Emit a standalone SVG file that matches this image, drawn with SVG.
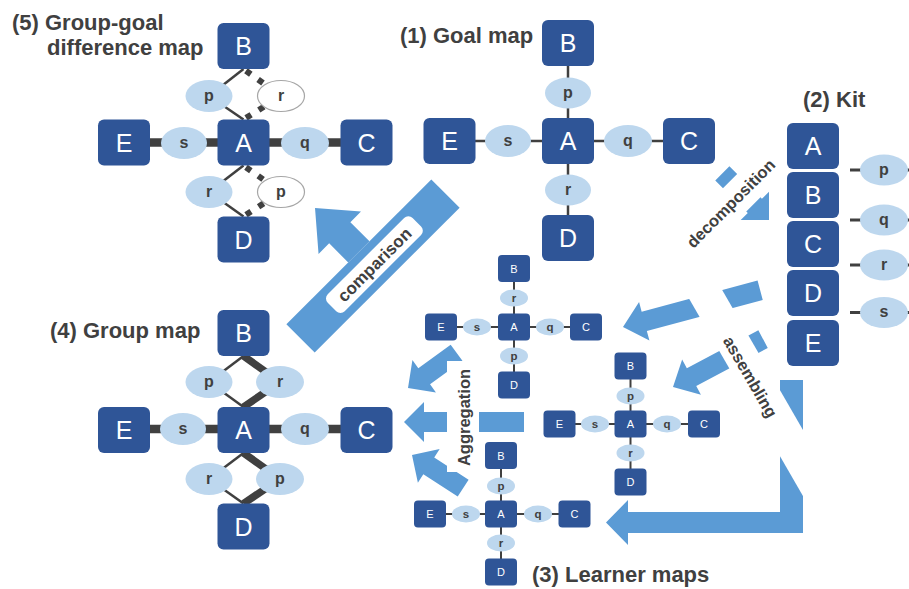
<svg xmlns="http://www.w3.org/2000/svg" width="909" height="589" viewBox="0 0 909 589">
<style>
text{font-family:"Liberation Sans",Arial,sans-serif;}
.ttl{font-size:22px;font-weight:bold;fill:#404040;}
.box{fill:#2f5597;}
.bt{fill:#fff;font-size:25px;text-anchor:middle;}
.sbt{fill:#fff;font-size:11px;text-anchor:middle;}
.el{fill:#bdd7ee;}
.eo{fill:#fff;stroke:#a6a6a6;stroke-width:1.2;}
.et{fill:#404040;font-size:16px;font-weight:bold;text-anchor:middle;}
.set{fill:#404040;font-size:11.5px;font-weight:bold;text-anchor:middle;}
.thin{stroke:#404040;stroke-width:2.5;fill:none;}
.sm{stroke:#404040;stroke-width:2;fill:none;}
.thick{stroke:#404040;stroke-width:7.5;fill:none;}
.hthick{stroke:#404040;stroke-width:8.5;fill:none;}
.dash{stroke:#404040;stroke-width:6;stroke-dasharray:6 9;stroke-dashoffset:-3;fill:none;}
.stub{stroke:#404040;stroke-width:3;}
.arr{fill:#5b9bd5;}
.bg{fill:#fff;}
.lbl{fill:#404040;font-size:16.5px;font-weight:bold;text-anchor:middle;}
</style>

<!-- titles -->
<g id="titles">
<text class="ttl" x="12" y="29.5">(5) Group-goal</text>
<text class="ttl" x="47" y="55">difference map</text>
<text class="ttl" x="400" y="43">(1) Goal map</text>
<text class="ttl" x="803" y="107">(2) Kit</text>
<text class="ttl" x="50" y="338">(4) Group map</text>
<text class="ttl" x="532" y="582">(3) Learner maps</text>
</g>

<!-- process arrows -->
<g id="arrows">
<polygon class="arr" transform="translate(769,220) rotate(225)" points="0,0 20,-20 20,-10 66,-10 66,10 20,10 20,20"/>
<polygon class="arr" transform="translate(623,327) rotate(-15)" points="0,0 22,-20 22,-10 142,-10 142,10 22,10 22,20"/>
<polygon class="arr" transform="translate(673,387) rotate(-28)" points="0,0 21,-20 21,-10 102,-10 102,10 21,10 21,20"/>
<polygon class="arr" points="780,380 803,380 803,533 628,533 628,545 606,522.5 628,500 628,512 780,512"/>
<polygon class="arr" transform="translate(408,388) rotate(-36)" points="0,0 20,-20 20,-10 60,-10 60,10 20,10 20,20"/>
<polygon class="arr" transform="translate(404,422)" points="0,0 20,-20 20,-10 120,-10 120,10 20,10 20,20"/>
<polygon class="arr" transform="translate(412,455) rotate(33)" points="0,0 20,-20 20,-10 61,-10 61,10 20,10 20,20"/>
</g>

<g id="label-decomposition" transform="translate(731,203.5) rotate(-45)">
<rect class="bg" x="-62" y="-16.5" width="124" height="33"/>
<text class="lbl" x="0" y="5.5">decomposition</text>
</g>
<g id="label-assembling" transform="translate(752.5,375.5) rotate(60)">
<rect class="bg" x="-110" y="-16.5" width="245" height="33"/>
<text class="lbl" x="0" y="8.4">assembling</text>
</g>
<g id="label-aggregation">
<rect class="bg" x="447" y="361" width="32" height="111"/>
<text class="lbl" transform="translate(470,417.5) rotate(-90)">Aggregation</text>
</g>
<g id="comparison" transform="translate(373,266) rotate(-45)">
<polygon class="arr" points="0,-82 30,-47 15,-47 15,-20 -15,-20 -15,-47 -30,-47"/>
<rect class="arr" x="-102.5" y="-20" width="205" height="40"/>
<rect class="bg" x="-58" y="-12" width="120" height="24" rx="6"/>
<text class="lbl" x="2" y="6" style="font-size:17px">comparison</text>
</g>

<!-- connectors -->
<g id="connectors">
<!-- (5) -->
<line class="hthick" x1="124" y1="142.5" x2="366.5" y2="142.5"/>
<line class="thin" x1="243.5" y1="69" x2="209" y2="96"/>
<line class="thin" x1="209" y1="96" x2="243.5" y2="119.5"/>
<line class="dash" x1="243.5" y1="69" x2="281" y2="96"/>
<line class="dash" x1="243.5" y1="119.5" x2="281" y2="96"/>
<line class="thin" x1="243.5" y1="165.5" x2="209" y2="192"/>
<line class="thin" x1="209" y1="192" x2="243.5" y2="216.5"/>
<line class="dash" x1="243.5" y1="165.5" x2="281" y2="192"/>
<line class="dash" x1="243.5" y1="216.5" x2="281" y2="192"/>
<!-- (4) -->
<line class="hthick" x1="124" y1="429" x2="366.5" y2="429"/>
<line class="thin" x1="243.5" y1="356" x2="209" y2="382"/>
<line class="thin" x1="209" y1="382" x2="243.5" y2="407"/>
<line class="thick" x1="243.5" y1="356" x2="280" y2="382"/>
<line class="thick" x1="280" y1="382" x2="243.5" y2="407"/>
<line class="thin" x1="243.5" y1="453" x2="209" y2="479"/>
<line class="thin" x1="209" y1="479" x2="243.5" y2="503.5"/>
<line class="thick" x1="243.5" y1="453" x2="280" y2="479"/>
<line class="thick" x1="280" y1="479" x2="243.5" y2="503.5"/>
<!-- (1) -->
<line class="thin" x1="568" y1="43" x2="568" y2="238"/>
<line class="thin" x1="449.5" y1="141" x2="689" y2="141"/>
<!-- (2) kit stubs -->
<line class="stub" x1="850" y1="170" x2="916" y2="170"/>
<line class="stub" x1="850" y1="220" x2="916" y2="220"/>
<line class="stub" x1="850" y1="265" x2="916" y2="265"/>
<line class="stub" x1="850" y1="312.5" x2="916" y2="312.5"/>
<!-- (3) learner maps -->
<line class="sm" x1="514" y1="268.5" x2="514" y2="385"/>
<line class="sm" x1="441" y1="327" x2="586" y2="327"/>
<line class="sm" x1="630.5" y1="366" x2="630.5" y2="482"/>
<line class="sm" x1="559.5" y1="424" x2="704" y2="424"/>
<line class="sm" x1="501" y1="455.5" x2="501" y2="572"/>
<line class="sm" x1="430" y1="514" x2="574.5" y2="514"/>
</g>

<!-- (5) group-goal difference map -->
<g id="m5-B"><rect class="box" x="217.5" y="23" width="52" height="46" rx="6"/><text class="bt" x="243.5" y="55">B</text></g>
<g id="m5-A"><rect class="box" x="217.5" y="119.5" width="52" height="46" rx="6"/><text class="bt" x="243.5" y="151.5">A</text></g>
<g id="m5-D"><rect class="box" x="217.5" y="216.5" width="52" height="46" rx="6"/><text class="bt" x="243.5" y="248.5">D</text></g>
<g id="m5-E"><rect class="box" x="98" y="119.5" width="52" height="46" rx="6"/><text class="bt" x="124" y="151.5">E</text></g>
<g id="m5-C"><rect class="box" x="340.5" y="119.5" width="52" height="46" rx="6"/><text class="bt" x="366.5" y="151.5">C</text></g>
<g id="m5-p1"><ellipse class="el" cx="209" cy="96" rx="23.5" ry="16"/><text class="et" x="209" y="100.5">p</text></g>
<g id="m5-r1"><ellipse class="eo" cx="281" cy="96" rx="23.5" ry="15.5"/><text class="et" x="281" y="100.5">r</text></g>
<g id="m5-s"><ellipse class="el" cx="184" cy="143" rx="23" ry="16"/><text class="et" x="184" y="147.5">s</text></g>
<g id="m5-q"><ellipse class="el" cx="305" cy="143" rx="24" ry="16"/><text class="et" x="305" y="147.5">q</text></g>
<g id="m5-r2"><ellipse class="el" cx="209" cy="192" rx="23.5" ry="16"/><text class="et" x="209" y="196.5">r</text></g>
<g id="m5-p2"><ellipse class="eo" cx="281" cy="192" rx="23.5" ry="15.5"/><text class="et" x="281" y="196.5">p</text></g>

<!-- (4) group map -->
<g id="m4-B"><rect class="box" x="217.5" y="310" width="52" height="46" rx="6"/><text class="bt" x="243.5" y="342">B</text></g>
<g id="m4-A"><rect class="box" x="217.5" y="407" width="52" height="46" rx="6"/><text class="bt" x="243.5" y="439">A</text></g>
<g id="m4-D"><rect class="box" x="217.5" y="503.5" width="52" height="46" rx="6"/><text class="bt" x="243.5" y="535.5">D</text></g>
<g id="m4-E"><rect class="box" x="98" y="407" width="52" height="46" rx="6"/><text class="bt" x="124" y="439">E</text></g>
<g id="m4-C"><rect class="box" x="340.5" y="407" width="52" height="46" rx="6"/><text class="bt" x="366.5" y="439">C</text></g>
<g id="m4-p1"><ellipse class="el" cx="209" cy="382" rx="23.5" ry="16"/><text class="et" x="209" y="386.5">p</text></g>
<g id="m4-r1"><ellipse class="el" cx="280" cy="382" rx="24" ry="16"/><text class="et" x="280" y="386.5">r</text></g>
<g id="m4-s"><ellipse class="el" cx="183" cy="429" rx="23" ry="16"/><text class="et" x="183" y="433.5">s</text></g>
<g id="m4-q"><ellipse class="el" cx="305" cy="429" rx="24" ry="16"/><text class="et" x="305" y="433.5">q</text></g>
<g id="m4-r2"><ellipse class="el" cx="209" cy="479" rx="23.5" ry="16"/><text class="et" x="209" y="483.5">r</text></g>
<g id="m4-p2"><ellipse class="el" cx="280" cy="479" rx="24" ry="16"/><text class="et" x="280" y="483.5">p</text></g>

<!-- (1) goal map -->
<g id="m1-B"><rect class="box" x="542" y="20" width="52" height="46" rx="6"/><text class="bt" x="568" y="52">B</text></g>
<g id="m1-A"><rect class="box" x="542" y="118" width="52" height="46" rx="6"/><text class="bt" x="568" y="150">A</text></g>
<g id="m1-D"><rect class="box" x="542" y="215" width="52" height="46" rx="6"/><text class="bt" x="568" y="247">D</text></g>
<g id="m1-E"><rect class="box" x="423.5" y="118" width="52" height="46" rx="6"/><text class="bt" x="449.5" y="150">E</text></g>
<g id="m1-C"><rect class="box" x="663" y="118" width="52" height="46" rx="6"/><text class="bt" x="689" y="150">C</text></g>
<g id="m1-p"><ellipse class="el" cx="568" cy="93" rx="23" ry="15.5"/><text class="et" x="568" y="97.5">p</text></g>
<g id="m1-r"><ellipse class="el" cx="568" cy="190" rx="23" ry="15.5"/><text class="et" x="568" y="194.5">r</text></g>
<g id="m1-s"><ellipse class="el" cx="508" cy="141" rx="23" ry="16"/><text class="et" x="508" y="145.5">s</text></g>
<g id="m1-q"><ellipse class="el" cx="628" cy="141" rx="24" ry="16"/><text class="et" x="628" y="145.5">q</text></g>

<!-- (2) kit -->
<g id="kit-A"><rect class="box" x="787" y="123" width="52" height="46" rx="6"/><text class="bt" x="813" y="155">A</text></g>
<g id="kit-B"><rect class="box" x="787" y="172" width="52" height="46" rx="6"/><text class="bt" x="813" y="204">B</text></g>
<g id="kit-C"><rect class="box" x="787" y="221" width="52" height="46" rx="6"/><text class="bt" x="813" y="253">C</text></g>
<g id="kit-D"><rect class="box" x="787" y="270" width="52" height="46" rx="6"/><text class="bt" x="813" y="302">D</text></g>
<g id="kit-E"><rect class="box" x="787" y="320" width="52" height="46" rx="6"/><text class="bt" x="813" y="352">E</text></g>
<g id="kit-p"><ellipse class="el" cx="884" cy="170" rx="24" ry="15.5"/><text class="et" x="884" y="174.5">p</text></g>
<g id="kit-q"><ellipse class="el" cx="884" cy="220" rx="24" ry="15.5"/><text class="et" x="884" y="224.5">q</text></g>
<g id="kit-r"><ellipse class="el" cx="884" cy="265" rx="24" ry="15.5"/><text class="et" x="884" y="269.5">r</text></g>
<g id="kit-s"><ellipse class="el" cx="884" cy="312.5" rx="24" ry="15.5"/><text class="et" x="884" y="317">s</text></g>

<!-- (3) learner map 1 -->
<g id="l1-B"><rect class="box" x="498" y="255" width="32" height="27" rx="4"/><text class="sbt" x="514" y="272.5">B</text></g>
<g id="l1-A"><rect class="box" x="498" y="313.5" width="32" height="27" rx="4"/><text class="sbt" x="514" y="331">A</text></g>
<g id="l1-D"><rect class="box" x="498" y="371.5" width="32" height="27" rx="4"/><text class="sbt" x="514" y="389">D</text></g>
<g id="l1-E"><rect class="box" x="425" y="313.5" width="32" height="27" rx="4"/><text class="sbt" x="441" y="331">E</text></g>
<g id="l1-C"><rect class="box" x="570" y="313.5" width="32" height="27" rx="4"/><text class="sbt" x="586" y="331">C</text></g>
<g id="l1-r"><ellipse class="el" cx="514" cy="298" rx="14" ry="8.5"/><text class="set" x="514" y="301.5">r</text></g>
<g id="l1-p"><ellipse class="el" cx="514" cy="356" rx="14" ry="8.5"/><text class="set" x="514" y="359.5">p</text></g>
<g id="l1-s"><ellipse class="el" cx="477" cy="327" rx="14" ry="8.5"/><text class="set" x="477" y="330.5">s</text></g>
<g id="l1-q"><ellipse class="el" cx="550" cy="327" rx="14" ry="8.5"/><text class="set" x="550" y="330.5">q</text></g>

<!-- (3) learner map 2 -->
<g id="l2-B"><rect class="box" x="614.5" y="352.5" width="32" height="27" rx="4"/><text class="sbt" x="630.5" y="370">B</text></g>
<g id="l2-A"><rect class="box" x="614.5" y="410.5" width="32" height="27" rx="4"/><text class="sbt" x="630.5" y="428">A</text></g>
<g id="l2-D"><rect class="box" x="614.5" y="468.5" width="32" height="27" rx="4"/><text class="sbt" x="630.5" y="486">D</text></g>
<g id="l2-E"><rect class="box" x="543.5" y="410.5" width="32" height="27" rx="4"/><text class="sbt" x="559.5" y="428">E</text></g>
<g id="l2-C"><rect class="box" x="688" y="410.5" width="32" height="27" rx="4"/><text class="sbt" x="704" y="428">C</text></g>
<g id="l2-p"><ellipse class="el" cx="630.5" cy="396" rx="14" ry="8.5"/><text class="set" x="630.5" y="399.5">p</text></g>
<g id="l2-r"><ellipse class="el" cx="630.5" cy="453" rx="14" ry="8.5"/><text class="set" x="630.5" y="456.5">r</text></g>
<g id="l2-s"><ellipse class="el" cx="595" cy="424" rx="14" ry="8.5"/><text class="set" x="595" y="427.5">s</text></g>
<g id="l2-q"><ellipse class="el" cx="667" cy="424" rx="14" ry="8.5"/><text class="set" x="667" y="427.5">q</text></g>

<!-- (3) learner map 3 -->
<g id="l3-B"><rect class="box" x="485" y="442" width="32" height="27" rx="4"/><text class="sbt" x="501" y="459.5">B</text></g>
<g id="l3-A"><rect class="box" x="485" y="500.5" width="32" height="27" rx="4"/><text class="sbt" x="501" y="518">A</text></g>
<g id="l3-D"><rect class="box" x="485" y="558.5" width="32" height="27" rx="4"/><text class="sbt" x="501" y="576">D</text></g>
<g id="l3-E"><rect class="box" x="414" y="500.5" width="32" height="27" rx="4"/><text class="sbt" x="430" y="518">E</text></g>
<g id="l3-C"><rect class="box" x="558.5" y="500.5" width="32" height="27" rx="4"/><text class="sbt" x="574.5" y="518">C</text></g>
<g id="l3-p"><ellipse class="el" cx="501" cy="486" rx="14" ry="8.5"/><text class="set" x="501" y="489.5">p</text></g>
<g id="l3-r"><ellipse class="el" cx="501" cy="543" rx="14" ry="8.5"/><text class="set" x="501" y="546.5">r</text></g>
<g id="l3-s"><ellipse class="el" cx="466" cy="514" rx="14" ry="8.5"/><text class="set" x="466" y="517.5">s</text></g>
<g id="l3-q"><ellipse class="el" cx="538" cy="514" rx="14" ry="8.5"/><text class="set" x="538" y="517.5">q</text></g>
</svg>
